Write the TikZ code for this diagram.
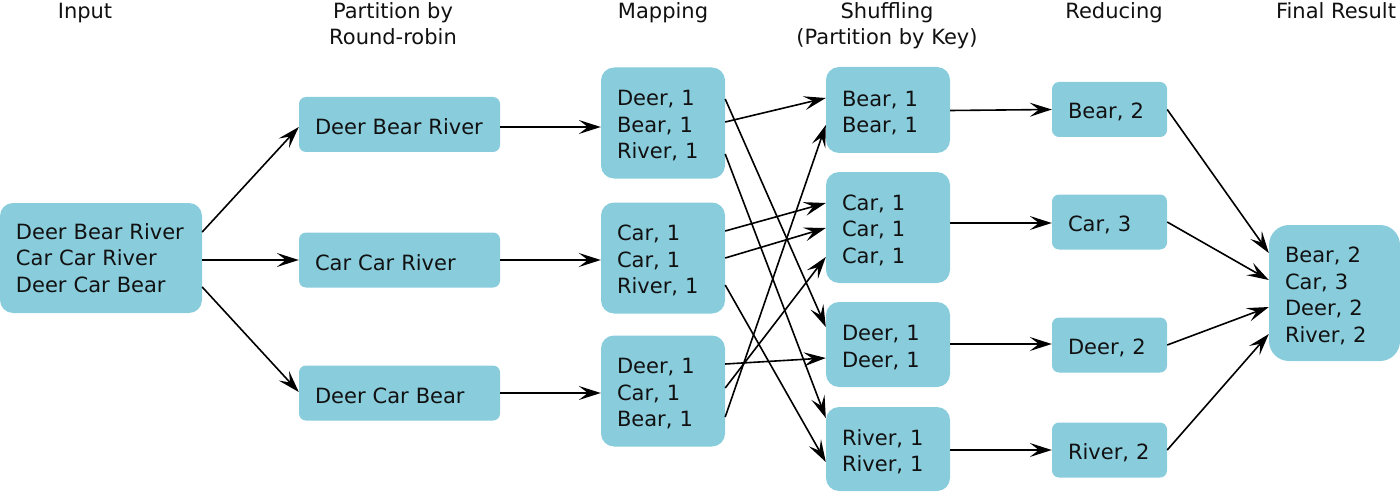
\documentclass[tikz,border=0pt]{standalone}
\usepackage{fontspec}
\setmainfont{DejaVu Sans}
\usetikzlibrary{arrows.meta}
\definecolor{boxblue}{RGB}{137,205,221}
\definecolor{txt}{RGB}{17,17,17}
\tikzset{
  box/.style={fill=boxblue, text=txt, inner xsep=16pt, inner ysep=0pt, align=left,
    font=\fontsize{21}{26.5}\selectfont},
  low/.style={execute at begin node={\rule{0pt}{21pt}}},
  hdr/.style={text=txt, inner sep=0pt, align=center, font=\fontsize{21}{26}\selectfont, anchor=base},
  arr/.style={-{Stealth[length=22pt,width=14pt,inset=9pt]}, line width=1.6pt, black}
}
\begin{document}
\begin{tikzpicture}[x=1pt,y=-1pt]
\useasboundingbox (0,0) rectangle (1400,492);
% headers
\node[hdr] (h1) at (85,19) {Input};
\node[hdr] (h2) at (393,45) {Partition by\\Round-robin};
\node[hdr] (h3) at (663,19) {Mapping};
\node[hdr] (h4) at (887,45) {Shuffling\\(Partition by Key)};
\node[hdr] (h5) at (1114,19) {Reducing};
\node[hdr] (h6) at (1336,19) {Final Result};
% input
\node[box, rounded corners=13pt, text width=170pt, minimum height=110pt] (in) at (101,258) {Deer Bear River\\Car Car River\\Deer Car Bear};
% partitions
\node[box, low, rounded corners=7pt, text width=169pt, minimum height=55pt] (p1) at (399.5,124.5) {Deer Bear River};
\node[box, low, rounded corners=7pt, text width=169pt, minimum height=55pt] (p2) at (399.5,260) {Car Car River};
\node[box, low, rounded corners=7pt, text width=169pt, minimum height=55pt] (p3) at (399.5,393) {Deer Car Bear};
% mapping
\node[box, low, rounded corners=13pt, text width=92pt, minimum height=111pt] (m1) at (663,123) {Deer, 1\\Bear, 1\\River, 1};
\node[box, low, rounded corners=13pt, text width=92pt, minimum height=111pt] (m2) at (663,258) {Car, 1\\Car, 1\\River, 1};
\node[box, low, rounded corners=13pt, text width=92pt, minimum height=111pt] (m3) at (663,391) {Deer, 1\\Car, 1\\Bear, 1};
% shuffling
\node[box, low, rounded corners=13pt, text width=92pt, minimum height=86pt] (s1) at (888,110) {Bear, 1\\Bear, 1};
\node[box, low, rounded corners=13pt, text width=92pt, minimum height=111pt] (s2) at (888,227.5) {Car, 1\\Car, 1\\Car, 1};
\node[box, low, rounded corners=13pt, text width=92pt, minimum height=85pt] (s3) at (888,344.5) {Deer, 1\\Deer, 1};
\node[box, low, rounded corners=13pt, text width=92pt, minimum height=84pt] (s4) at (888,449) {River, 1\\River, 1};
% reducing
\node[box, low, rounded corners=7pt, text width=83pt, minimum height=55pt] (r1) at (1109.5,109.5) {Bear, 2};
\node[box, low, rounded corners=7pt, text width=83pt, minimum height=55pt] (r2) at (1109.5,222) {Car, 3};
\node[box, low, rounded corners=7pt, text width=83pt, minimum height=55pt] (r3) at (1109.5,345) {Deer, 2};
\node[box, low, rounded corners=7pt, text width=83pt, minimum height=55pt] (r4) at (1109.5,450) {River, 2};
% final
\node[box, low, rounded corners=20pt, text width=99pt, minimum height=136pt] (f) at (1334.5,293) {Bear, 2\\Car, 3\\Deer, 2\\River, 2};
% input -> partitions
\draw[arr] ([yshift=26pt]in.east) -- ([yshift=-2.5pt]p1.west);
\draw[arr] ([yshift=-2pt]in.east) -- (p2.west);
\draw[arr] ([yshift=-29pt]in.east) -- ([yshift=1pt]p3.west);
% partitions -> mapping
\draw[arr] ([yshift=-2.5pt]p1.east) -- ([yshift=-4pt]m1.west);
\draw[arr] (p2.east) -- ([yshift=-2pt]m2.west);
\draw[arr] (p3.east) -- ([yshift=-2pt]m3.west);
% mapping -> shuffling
\draw[arr] ([yshift=24pt]m1.east) -- ([yshift=17.5pt]s3.west);
\draw[arr] ([yshift=1pt]m1.east) -- ([yshift=12pt]s1.west);
\draw[arr] ([yshift=-31pt]m1.east) -- ([yshift=31pt]s4.west);
\draw[arr] ([yshift=27pt]m2.east) -- ([yshift=24.5pt]s2.west);
\draw[arr] (m2.east) -- ([yshift=-0.5pt]s2.west);
\draw[arr] ([yshift=-27pt]m2.east) -- ([yshift=-13pt]s4.west);
\draw[arr] ([yshift=27pt]m3.east) -- ([yshift=-13.5pt]s3.west);
\draw[arr] ([yshift=3pt]m3.east) -- ([yshift=-29.5pt]s2.west);
\draw[arr] ([yshift=-26pt]m3.east) -- ([yshift=-15pt]s1.west);
% shuffling -> reducing
\draw[arr] ([yshift=-0.5pt]s1.east) -- (r1.west);
\draw[arr] ([yshift=4.5pt]s2.east) -- ([yshift=-1pt]r2.west);
\draw[arr] ([yshift=0.5pt]s3.east) -- ([yshift=1pt]r3.west);
\draw[arr] ([yshift=-1pt]s4.east) -- (r4.west);
% reducing -> final
\draw[arr] (r1.east) -- ([yshift=40pt]f.west);
\draw[arr] (r2.east) -- ([yshift=13pt]f.west);
\draw[arr] (r3.east) -- ([yshift=-14pt]f.west);
\draw[arr] (r4.east) -- ([yshift=-41pt]f.west);
\end{tikzpicture}
\end{document}
